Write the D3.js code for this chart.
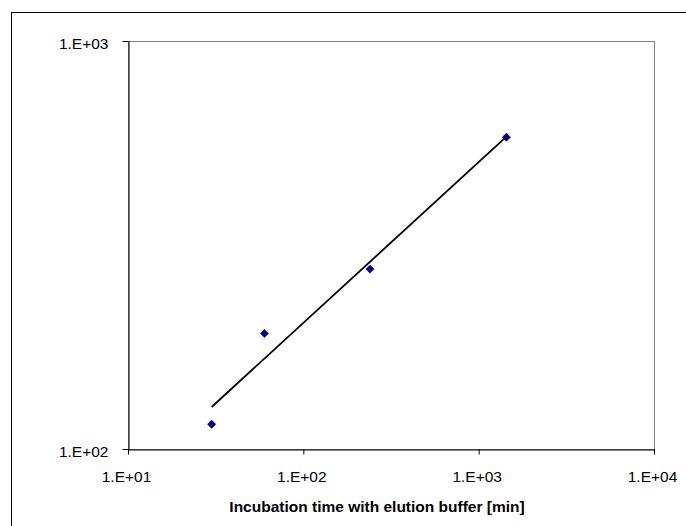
<!DOCTYPE html>
<html>
<head>
<meta charset="utf-8">
<script src="https://cdn.jsdelivr.net/npm/d3@7"></script>
<style>
  html, body { margin: 0; padding: 0; background: #fff; }
  svg { display: block; font-family: "Liberation Sans", Arial, sans-serif; }
</style>
</head>
<body>
<div id="chart"></div>
<script>
// incubation time [min] and measured values
var times = [30, 60, 240, 1440];
var values = [115, 192, 276, 581];
var xTicks = [10, 100, 1000, 10000];
var yTicks = [100, 1000];
var xTitle = "Incubation time with elution buffer [min]";

var w = 686, h = 526;
var plotL = 128, plotR = 654, plotT = 41, plotB = 449;

var svg = d3.select("#chart").append("svg")
  .attr("width", w)
  .attr("height", h);

// outer chart frame (runs off the picture on the right and bottom)
svg.append("rect")
  .attr("x", 11.5).attr("y", 12.5)
  .attr("width", 800).attr("height", 600)
  .style("fill", "#fff")
  .style("stroke", "#000")
  .style("stroke-width", 1);

var x = d3.scaleLog().domain([10, 10000]).range([plotL, plotR]);
var y = d3.scaleLog().domain([100, 1000]).range([plotB, plotT]);

// plot area border, gray
svg.append("rect")
  .attr("x", plotL + 0.5).attr("y", plotT + 0.5)
  .attr("width", plotR - plotL).attr("height", plotB - plotT)
  .style("fill", "none")
  .style("stroke", "#808080")
  .style("stroke-width", 1);

var fmt = function(d) { return "1.E+" + d3.format("02")(Math.round(Math.log10(d))); };

var xAxis = svg.append("g")
  .attr("transform", "translate(0," + (plotB + 0.5) + ")")
  .call(d3.axisBottom(x).tickValues(xTicks).tickFormat(fmt).tickSize(5).tickSizeOuter(0));
xAxis.select(".domain").attr("stroke", "#000");
xAxis.selectAll(".tick line").attr("stroke", "#000");
xAxis.selectAll(".tick text")
  .attr("y", 0).attr("dy", null)
  .attr("transform", "translate(-2,32)")
  .style("font-size", "15.5px")
  .style("fill", "#000");

var yAxis = svg.append("g")
  .attr("transform", "translate(" + (plotL + 0.5) + ",0)")
  .call(d3.axisLeft(y).tickValues(yTicks).tickFormat(fmt).tickSize(6).tickSizeOuter(0));
yAxis.select(".domain").attr("stroke", "#000");
yAxis.selectAll(".tick line").attr("stroke", "#000");
yAxis.selectAll(".tick text")
  .attr("x", -20).attr("dy", null)
  .attr("y", 7.5)
  .style("font-size", "15.5px")
  .style("fill", "#000");

svg.selectAll(".tick text").style("font-family", "'Liberation Sans', Arial, sans-serif");

// power trendline fitted in log-log space
var lx = times.map(Math.log10), ly = values.map(Math.log10);
var mx = d3.mean(lx), my = d3.mean(ly);
var slope = d3.sum(lx, function(d, i) { return (d - mx) * (ly[i] - my); }) /
            d3.sum(lx, function(d) { return (d - mx) * (d - mx); });
var icpt = my - slope * mx;
var trend = d3.extent(times).map(function(t) { return [t, Math.pow(10, icpt + slope * Math.log10(t))]; });

svg.append("path")
  .datum(trend)
  .attr("d", d3.line().x(function(d) { return x(d[0]); }).y(function(d) { return y(d[1]); }))
  .style("fill", "none")
  .style("stroke", "#000")
  .style("stroke-width", 1.8);

// diamond markers
svg.selectAll("path.pt")
  .data(times)
  .enter()
  .append("path")
  .attr("class", "pt")
  .attr("d", d3.symbol().type(d3.symbolDiamond2).size(44))
  .attr("transform", function(d, i) { return "translate(" + x(d) + "," + y(values[i]) + ")"; })
  .style("fill", "#000080")
  .style("stroke", "#000080")
  .style("stroke-width", 0.5);

svg.append("text")
  .attr("x", 377).attr("y", 512)
  .attr("text-anchor", "middle")
  .style("font-size", "15.5px")
  .style("font-weight", "bold")
  .text(xTitle);
</script>
</body>
</html>
